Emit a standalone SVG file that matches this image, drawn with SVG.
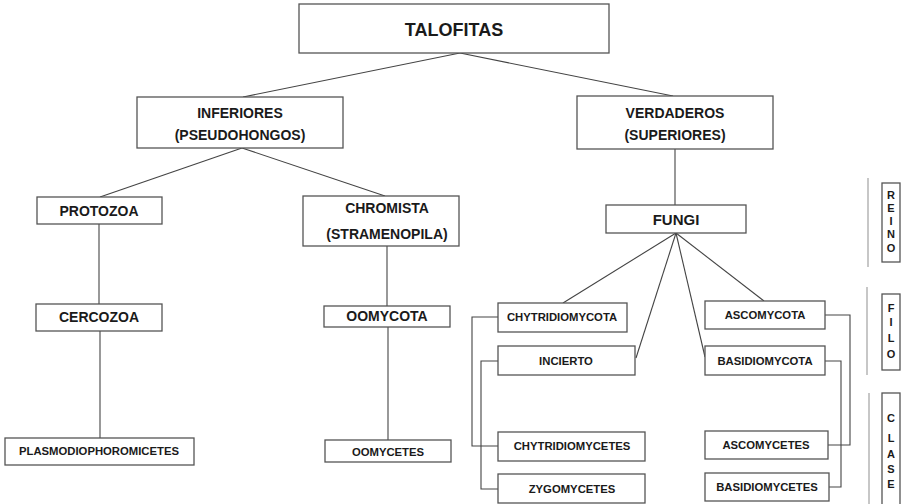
<svg xmlns="http://www.w3.org/2000/svg" width="909" height="504" viewBox="0 0 909 504">
<style>
rect{fill:#fff;stroke:#555;stroke-width:1.3}
text{font-family:"Liberation Sans",Arial,sans-serif;font-weight:bold;fill:#1a1a1a;text-anchor:middle;dominant-baseline:central}
.xl{font-size:18px}
.md{font-size:14px}
.sm{font-size:11.3px}
.lg{font-size:11px}
#connectors path,#connectors line{stroke:#444;stroke-width:1.1;fill:none}
.sep{stroke:#999;stroke-width:1.1}
</style>
<rect x="0" y="0" width="909" height="504" style="fill:#fff;stroke:none"/>
<g id="connectors">
<line x1="460" y1="53" x2="243" y2="97"/>
<line x1="460" y1="53" x2="673" y2="96"/>
<line x1="242" y1="148" x2="100" y2="197"/>
<line x1="242" y1="148" x2="385" y2="196"/>
<line x1="675" y1="149" x2="675" y2="205"/>
<line x1="99" y1="224" x2="99" y2="304"/>
<line x1="100" y1="331" x2="100" y2="438"/>
<line x1="387" y1="246" x2="387" y2="306"/>
<line x1="388" y1="327" x2="388" y2="440"/>
<line x1="676" y1="233" x2="563" y2="303"/>
<line x1="676" y1="233" x2="636" y2="358"/>
<line x1="676" y1="233" x2="705" y2="357"/>
<line x1="676" y1="233" x2="764" y2="301"/>
<path d="M498 317 H472 V446 H498"/>
<path d="M498 361 H481 V489 H498"/>
<path d="M825 315 H850 V445 H828"/>
<path d="M825 361 H841 V487 H829"/>
</g>
<g id="talofitas"><rect x="299" y="4" width="310" height="49"/><text class="xl" x="454" y="30">TALOFITAS</text></g>
<g id="inferiores"><rect x="137" y="97" width="206" height="51"/><text class="md" x="240" y="113">INFERIORES</text><text class="md" x="240" y="135">(PSEUDOHONGOS)</text></g>
<g id="verdaderos"><rect x="577" y="96" width="196" height="53"/><text class="md" x="675" y="113">VERDADEROS</text><text class="md" x="675" y="135">(SUPERIORES)</text></g>
<g id="protozoa"><rect x="37" y="197" width="125" height="27"/><text class="md" x="99" y="211">PROTOZOA</text></g>
<g id="cercozoa"><rect x="36" y="304" width="126" height="27"/><text class="md" x="99" y="317">CERCOZOA</text></g>
<g id="plasmodiophoromicetes"><rect x="5" y="438" width="189" height="27"/><text class="sm" x="99" y="451">PLASMODIOPHOROMICETES</text></g>
<g id="chromista"><rect x="303" y="196" width="156" height="50"/><text class="md" x="387" y="208">CHROMISTA</text><text class="md" x="387" y="234">(STRAMENOPILA)</text></g>
<g id="oomycota"><rect x="324" y="306" width="126" height="21"/><text class="md" x="387" y="316">OOMYCOTA</text></g>
<g id="oomycetes"><rect x="325" y="440" width="126" height="22"/><text class="sm" x="388" y="452">OOMYCETES</text></g>
<g id="fungi"><rect x="606" y="205" width="140" height="28"/><text class="md" x="676" y="219" style="font-size:15px">FUNGI</text></g>
<g id="chytridiomycota"><rect x="498" y="303" width="129" height="29"/><text class="sm" x="562" y="317">CHYTRIDIOMYCOTA</text></g>
<g id="incierto"><rect x="498" y="346" width="137" height="29"/><text class="sm" x="566" y="361">INCIERTO</text></g>
<g id="ascomycota"><rect x="705" y="301" width="120" height="28"/><text class="sm" x="765" y="315">ASCOMYCOTA</text></g>
<g id="basidiomycota"><rect x="705" y="346" width="120" height="29"/><text class="sm" x="765" y="361">BASIDIOMYCOTA</text></g>
<g id="chytridiomycetes"><rect x="498" y="432" width="147" height="29"/><text class="sm" x="572" y="446">CHYTRIDIOMYCETES</text></g>
<g id="zygomycetes"><rect x="498" y="474" width="147" height="29"/><text class="sm" x="572" y="489">ZYGOMYCETES</text></g>
<g id="ascomycetes"><rect x="705" y="431" width="123" height="28"/><text class="sm" x="766" y="445">ASCOMYCETES</text></g>
<g id="basidiomycetes"><rect x="705" y="473" width="124" height="28"/><text class="sm" x="767" y="487">BASIDIOMYCETES</text></g>
<g id="reino"><line class="sep" x1="868" y1="178" x2="868" y2="267"/><rect x="882" y="183" width="18" height="79"/>
<text class="lg" x="891" y="195">R</text><text class="lg" x="891" y="208">E</text><text class="lg" x="891" y="221">I</text><text class="lg" x="891" y="234">N</text><text class="lg" x="891" y="248">O</text></g>
<g id="filo"><line class="sep" x1="867" y1="287" x2="867" y2="375"/><rect x="882" y="294" width="18" height="76"/>
<text class="lg" x="891" y="308">F</text><text class="lg" x="891" y="322">I</text><text class="lg" x="891" y="338">L</text><text class="lg" x="891" y="354">O</text></g>
<g id="clase"><line class="sep" x1="869" y1="393" x2="869" y2="504"/><rect x="882" y="393" width="18" height="115"/>
<text class="lg" x="891" y="418">C</text><text class="lg" x="891" y="438">L</text><text class="lg" x="891" y="454">A</text><text class="lg" x="891" y="469">S</text><text class="lg" x="891" y="484">E</text></g>
</svg>
